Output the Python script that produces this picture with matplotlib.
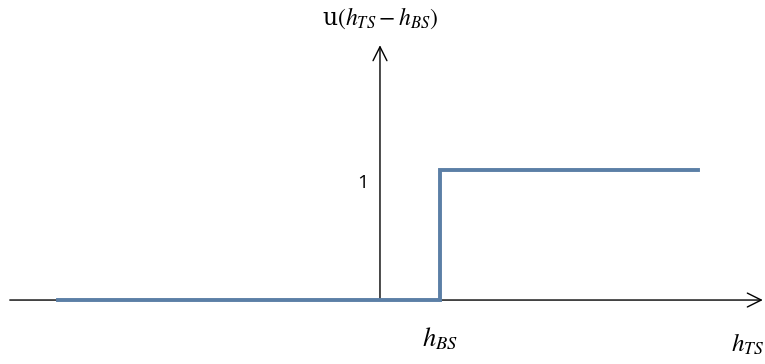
import matplotlib.pyplot as plt

# unit step u(h_TS - h_BS), drawn in axis units (h_BS = 1)
step_x = [-5.37, 1.0, 1.0, 5.3]
step_y = [0.0, 0.0, 1.0, 1.0]
step_level = 1
h_bs = 1.0

plt.rcParams['mathtext.fontset'] = 'stix'

fig = plt.figure(figsize=(7.65, 3.64), dpi=100)
ax = fig.add_axes([0, 0, 1, 1])
ax.set_xlim(-6.333, 6.417)
ax.set_ylim(-0.492, 2.308)
ax.axis('off')

# coordinate axes with open arrowheads
ax.annotate('', xy=(6.38, 0), xytext=(-6.17, 0),
            arrowprops=dict(arrowstyle='->,head_length=1.0,head_width=0.5',
                            color='black', lw=1.0, shrinkA=0, shrinkB=0))
ax.annotate('', xy=(0, 1.96), xytext=(0, 0),
            arrowprops=dict(arrowstyle='->,head_length=1.0,head_width=0.5',
                            color='black', lw=1.0, shrinkA=0, shrinkB=0))

ax.plot(step_x, step_y, color='#5b7fa6', lw=2.8, solid_joinstyle='miter', zorder=3)

ax.text(0, 2.17, r'u$(h_{TS}-h_{BS})$', ha='center', va='center', fontsize=17,
        family='DejaVu Serif')
ax.text(-0.28, step_level - 0.1, str(step_level), ha='center', va='center',
        fontsize=14, family='Open Sans')
ax.text(h_bs, -0.3, r'$h_{BS}$', ha='center', va='center', fontsize=19)
ax.text(5.85, -0.34, r'$h_{TS}$', ha='left', va='center', fontsize=18)

fig.savefig('out.png', dpi=100, facecolor='white')
